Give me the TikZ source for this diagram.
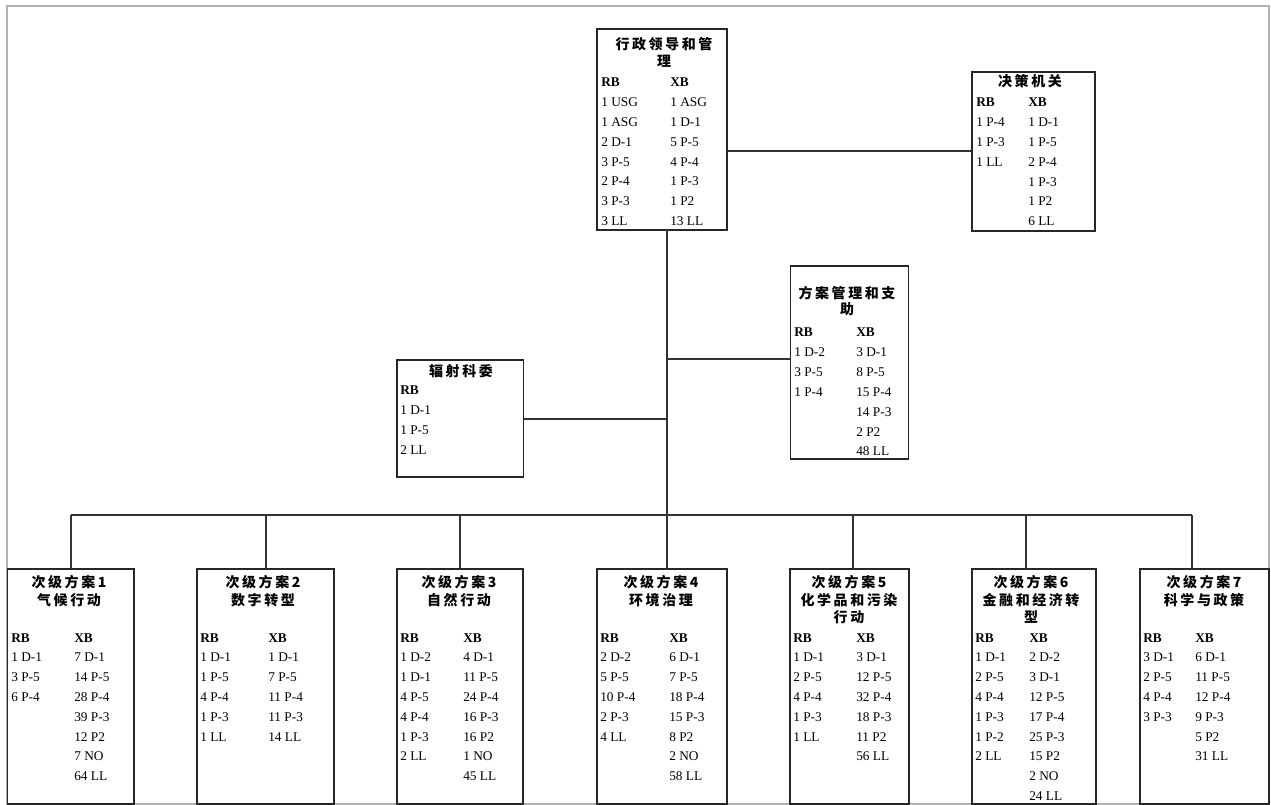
\documentclass[tikz,border=0pt]{standalone}
\usepackage{fontspec}
\setmainfont{Liberation Serif}
\newfontfamily\cjk{Noto Sans CJK SC}[LetterSpace=18]
\tikzset{
  boxsty/.style={draw=black!85, line width=1.1pt, inner sep=0pt, outer sep=0pt, anchor=north west},
  conn/.style={draw=black!80, line width=0.8pt},
  txt/.style={anchor=base west, inner sep=0pt, font=\fontsize{10}{12}\selectfont},
  ttlsty/.style={anchor=base, inner sep=0pt, font=\cjk\bfseries\fontsize{10.5}{12}\selectfont},
  frame/.style={draw=black!30, line width=0.8pt}
}
\newcommand\bx[5]{\node[boxsty, minimum width={(#4-#2)*0.75pt}, minimum height={(#5-#3)*0.75pt}] (#1) at (#2,#3) {};}
\newcommand\colm[4]{\foreach \t [count=\i] in {#4} {\node[txt] (#1\i) at (#2,{#3+19.8*(\i-1)}) {\t};}}
\newcommand\ttl[4]{\node[ttlsty] (#1) at (#2,#3) {#4};}
\begin{document}
\begin{tikzpicture}[x=0.75pt,y=-0.75pt]
\useasboundingbox (0,0) rectangle (1271,805);
\node[frame, minimum width={1262*0.75pt}, minimum height={798*0.75pt}, anchor=north west, inner sep=0pt, outer sep=0pt] (frm) at (7,6) {};
% boxes
\bx{A}{597}{29}{727}{230}
\bx{B}{972}{72}{1095}{231}
\bx{C}{790.5}{266}{908.5}{459}
\bx{D}{397}{360}{523.5}{477}
\bx{E1}{7.5}{569}{134}{804}
\bx{E2}{197}{569}{334}{804}
\bx{E3}{397}{569}{523}{804}
\bx{E4}{597}{569}{727}{804}
\bx{E5}{790}{569}{909}{804}
\bx{E6}{972}{569}{1096}{804}
\bx{E7}{1140}{569}{1269}{804}
% connectors
\coordinate (hAB) at (800,151);
\coordinate (tr0) at (667,230);
\coordinate (trC) at (667,359);
\coordinate (trD) at (667,419);
\coordinate (d1) at (71,515);
\coordinate (d2) at (266,515);
\coordinate (d3) at (460,515);
\coordinate (d4) at (667,515);
\coordinate (d5) at (853,515);
\coordinate (d6) at (1026,515);
\coordinate (d7) at (1192,515);
\draw[conn] (A.east |- hAB) -- (B.west |- hAB);
\draw[conn] (tr0) -- (d4);
\draw[conn] (trC) -- (C.west |- trC);
\draw[conn] (D.east |- trD) -- (trD);
\draw[conn] (d1) -- (d7);
\foreach \k in {1,...,7} {\draw[conn] (d\k) -- (d\k |- E\k.north);}
% titles
\ttl{At1}{664}{50}{行政领导和管}
\ttl{At2}{664}{67}{理}
\ttl{Bt1}{1030}{87}{决策机关}
\ttl{Ct1}{847}{299}{方案管理和支}
\ttl{Ct2}{847}{315}{助}
\ttl{Dt1}{461}{377}{辐射科委}
\ttl{E1t1}{69}{587}{次级方案1}
\ttl{E1t2}{69}{605}{气候行动}
\ttl{E2t1}{263}{587}{次级方案2}
\ttl{E2t2}{263}{605}{数字转型}
\ttl{E3t1}{459}{587}{次级方案3}
\ttl{E3t2}{459}{605}{自然行动}
\ttl{E4t1}{661}{587}{次级方案4}
\ttl{E4t2}{661}{605}{环境治理}
\ttl{E5t1}{849}{587}{次级方案5}
\ttl{E5t2}{849}{605}{化学品和污染}
\ttl{E5t3}{849}{622}{行动}
\ttl{E6t1}{1031}{587}{次级方案6}
\ttl{E6t2}{1031}{605}{金融和经济转}
\ttl{E6t3}{1031}{622}{型}
\ttl{E7t1}{1204}{587}{次级方案7}
\ttl{E7t2}{1204}{605}{科学与政策}
% columns
\colm{Ar}{601}{87}{\textbf{RB},1 USG,1 ASG,2 D-1,3 P-5,2 P-4,3 P-3,3 LL}
\colm{Ax}{670}{87}{\textbf{XB},1 ASG,1 D-1,5 P-5,4 P-4,1 P-3,1 P2,13 LL}
\colm{Br}{976}{107}{\textbf{RB},1 P-4,1 P-3,1 LL}
\colm{Bx}{1028}{107}{\textbf{XB},1 D-1,1 P-5,2 P-4,1 P-3,1 P2,6 LL}
\colm{Cr}{794}{337}{\textbf{RB},1 D-2,3 P-5,1 P-4}
\colm{Cx}{856}{337}{\textbf{XB},3 D-1,8 P-5,15 P-4,14 P-3,2 P2,48 LL}
\colm{Dr}{400}{395}{\textbf{RB},1 D-1,1 P-5,2 LL}
\colm{E1r}{11}{642}{\textbf{RB},1 D-1,3 P-5,6 P-4}
\colm{E1x}{74}{642}{\textbf{XB},7 D-1,14 P-5,28 P-4,39 P-3,12 P2,7 NO,64 LL}
\colm{E2r}{200}{642}{\textbf{RB},1 D-1,1 P-5,4 P-4,1 P-3,1 LL}
\colm{E2x}{268}{642}{\textbf{XB},1 D-1,7 P-5,11 P-4,11 P-3,14 LL}
\colm{E3r}{400}{642}{\textbf{RB},1 D-2,1 D-1,4 P-5,4 P-4,1 P-3,2 LL}
\colm{E3x}{463}{642}{\textbf{XB},4 D-1,11 P-5,24 P-4,16 P-3,16 P2,1 NO,45 LL}
\colm{E4r}{600}{642}{\textbf{RB},2 D-2,5 P-5,10 P-4,2 P-3,4 LL}
\colm{E4x}{669}{642}{\textbf{XB},6 D-1,7 P-5,18 P-4,15 P-3,8 P2,2 NO,58 LL}
\colm{E5r}{793}{642}{\textbf{RB},1 D-1,2 P-5,4 P-4,1 P-3,1 LL}
\colm{E5x}{856}{642}{\textbf{XB},3 D-1,12 P-5,32 P-4,18 P-3,11 P2,56 LL}
\colm{E6r}{975}{642}{\textbf{RB},1 D-1,2 P-5,4 P-4,1 P-3,1 P-2,2 LL}
\colm{E6x}{1029}{642}{\textbf{XB},2 D-2,3 D-1,12 P-5,17 P-4,25 P-3,15 P2,2 NO,24 LL}
\colm{E7r}{1143}{642}{\textbf{RB},3 D-1,2 P-5,4 P-4,3 P-3}
\colm{E7x}{1195}{642}{\textbf{XB},6 D-1,11 P-5,12 P-4,9 P-3,5 P2,31 LL}
\end{tikzpicture}
\end{document}
